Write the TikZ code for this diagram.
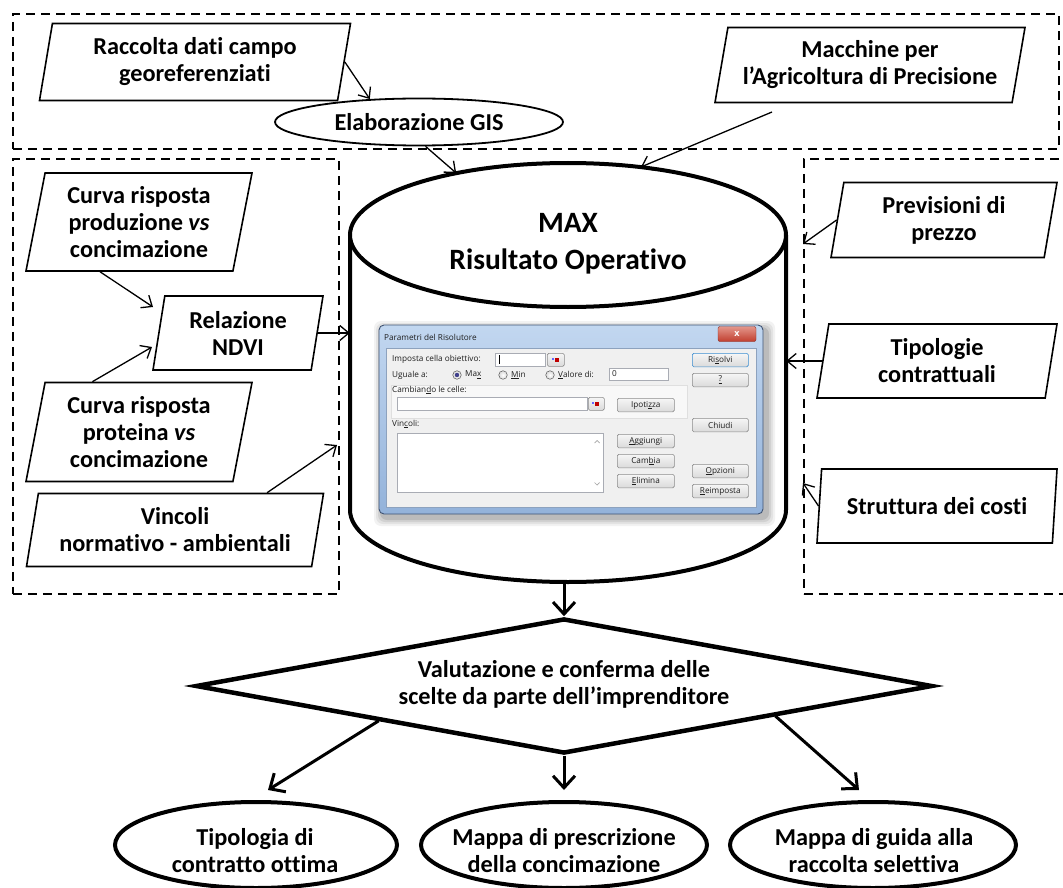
\documentclass[tikz,border=0pt]{standalone}
\usepackage{fontspec}
\setmainfont{Carlito}[Ligatures=NoCommon]
\newfontfamily\dlgfont{Open Sans}
\usetikzlibrary{shapes.geometric,arrows.meta,calc}

\definecolor{frameTop}{HTML}{C2D7F0}
\definecolor{frameBot}{HTML}{93B2DA}
\definecolor{frameEdge}{HTML}{3F5373}
\definecolor{clientBg}{HTML}{F0F0F0}
\definecolor{clientEdge}{HTML}{8DA2BE}
\definecolor{btnTop}{HTML}{F6F6F6}
\definecolor{btnBot}{HTML}{DADADA}
\definecolor{btnEdge}{HTML}{8C8C8C}
\definecolor{defEdge}{HTML}{3D8ED0}
\definecolor{fieldEdge}{HTML}{A9ACB4}
\definecolor{closeTop}{HTML}{E3968A}
\definecolor{closeBot}{HTML}{C13E2F}
\definecolor{dlgText}{HTML}{1E1E1E}

\begin{document}
\begin{tikzpicture}[x=1pt,y=-1pt,
  lbl/.style={font=\fontsize{24.3}{27}\selectfont\bfseries, align=center, inner sep=0pt},
  para/.style={trapezium, trapezium left angle=75, trapezium right angle=105,
               trapezium stretches body, draw, line width=1.6pt, fill=white, lbl},
  grp/.style={draw, line width=1.8pt, dash pattern=on 9pt off 6pt, inner sep=0pt, anchor=north west},
  inarr/.style={line width=1.3pt, -{Straight Barb[length=9pt,width=15pt,line width=1.3pt]}},
  outarr/.style={line width=3pt, -{Straight Barb[length=12pt,width=22pt,line width=3pt]}},
  dtxt/.style={font=\dlgfont\fontsize{8.2}{9}\selectfont, text=dlgText, inner sep=0pt, anchor=west},
  btn/.style={draw=btnEdge, top color=btnTop, bottom color=btnBot, rounded corners=1.5pt,
              line width=0.6pt, minimum width=57pt, minimum height=13.5pt, inner sep=0pt,
              font=\dlgfont\fontsize{8.2}{9}\selectfont, text=dlgText},
  fld/.style={draw=fieldEdge, fill=white, line width=0.6pt, inner sep=0pt, anchor=north west},
  radio/.style={circle, draw=gray!70!black, line width=0.5pt, inner color=white,
                outer color=gray!30, minimum size=8.5pt, inner sep=0pt},
]
\useasboundingbox (0,0) rectangle (1063,888);

% dashed groups
\node[grp, minimum width=1046pt, minimum height=135pt] (gTop) at (12,13) {};
\node[grp, minimum width=326pt, minimum height=435pt] (gLeft) at (12,158) {};
\node[grp, minimum width=270pt, minimum height=435pt] (gRight) at (803,158) {};

% top row
\node[para, minimum width=311pt, minimum height=77pt] (rac) at (195,62) {Raccolta dati campo\\georeferenziati};
\node[ellipse, draw, line width=1.8pt, fill=white, minimum width=288pt, minimum height=47pt,
      inner sep=0pt, lbl] (gis) at (419,122) {Elaborazione GIS};
\node[para, minimum width=310pt, minimum height=75pt] (mac) at (870,65) {Macchine per\\l’Agricoltura di Precisione};

% cylinder
\path[draw, line width=4pt, fill=white] (350,235) -- (350,510)
  arc[start angle=180, end angle=360, x radius=218pt, y radius=72pt] -- (786,235);
\draw[line width=4pt, fill=white] (568,235) ellipse [x radius=218pt, y radius=72pt];
\node[ellipse, minimum width=436pt, minimum height=144pt, inner sep=0pt] (cyltop) at (568,235) {};
\node[minimum width=436pt, minimum height=419pt, inner sep=0pt] (cyl) at (568,372.5) {};
\node[font=\fontsize{29.5}{37}\selectfont\bfseries, align=center, inner sep=0pt] (cyltxt) at (568,244) {MAX\\Risultato Operativo};

% solver dialog: shadow, frame, client area
\foreach \d/\op in {8/0.05,6/0.06,4/0.08,2/0.10}
  \fill[black, opacity=\op, rounded corners=7pt] (382-\d, 329-\d) rectangle (767+\d, 518+\d);
\shade[rounded corners=5pt, top color=frameTop, bottom color=frameBot] (379,325) rectangle (763,514);
\draw[rounded corners=5pt, draw=frameEdge, line width=0.9pt] (379,325) rectangle (763,514);
\draw[fill=clientBg, draw=clientEdge, line width=0.6pt] (386,348) rectangle (756,507);
\node[dtxt] (dTitle) at (384,337) {Parametri del Risolutore};
\node[draw=closeBot!70!black, top color=closeTop, bottom color=closeBot, rounded corners=2pt,
      minimum width=38pt, minimum height=15pt, inner sep=0pt, text=white,
      font=\dlgfont\bfseries\fontsize{9}{9}\selectfont] (dClose) at (737,334) {x};

% panel around the variable cells
\draw[draw=gray!25, fill=white!55!clientBg] (391,385) rectangle (687,418);

% objective row
\node[dtxt] (tImp) at (392,359) {Imposta cella obiettivo:};
\node[fld, minimum width=50pt, minimum height=13pt] (fObj) at (495,353) {};
\draw[line width=0.6pt] ($(fObj.west)+(4,-4.5)$) -- ($(fObj.west)+(4,4.5)$);
\node[btn, minimum width=17pt, minimum height=13pt, anchor=north west] (rObj) at (547,353) {};
\fill[red!75!black] ($(rObj.center)+(-1,-2)$) rectangle ($(rObj.center)+(3,2)$);
\fill[blue!60] ($(rObj.center)+(-4,-2)$) rectangle ($(rObj.center)+(-2,0)$);

% target row
\node[dtxt] (tUg) at (392,375) {Uguale a:};
\node[radio] (rMax) at (457,375) {};
\fill[blue!40!black!75] (rMax.center) circle[radius=2.2pt];
\node[dtxt] (tMax) at (465,375) {Ma\underline{x}};
\node[radio] (rMin) at (503,375) {};
\node[dtxt] (tMin) at (511,375) {\underline{M}in};
\node[radio] (rVal) at (550,375) {};
\node[dtxt] (tVal) at (558,375) {\underline{V}alore di:};
\node[fld, minimum width=59pt, minimum height=12pt] (fVal) at (609,368) {};
\node[dtxt] (tZero) at (612,374) {0};

% variable cells
\node[dtxt] (tCamb) at (392,390) {Cambian\underline{d}o le celle:};
\node[fld, minimum width=190pt, minimum height=13pt] (fCel) at (397,397) {};
\node[btn, minimum width=16pt, minimum height=13pt, anchor=north west] (rCel) at (588,397) {};
\fill[red!75!black] ($(rCel.center)+(-1,-2)$) rectangle ($(rCel.center)+(3,2)$);
\fill[blue!60] ($(rCel.center)+(-4,-2)$) rectangle ($(rCel.center)+(-2,0)$);
\node[btn, anchor=north west] (bIpo) at (617,398) {Ipoti\underline{z}za};

% constraints
\node[dtxt] (tVinc) at (392,424) {Vin\underline{c}oli:};
\node[fld, minimum width=206pt, minimum height=59pt] (fList) at (397,433) {};
\draw[gray!70, line width=0.7pt] ($(fList.north east)+(-9,10)$) -- ++(2.5,-2.5) -- ++(2.5,2.5);
\draw[gray!70, line width=0.7pt] ($(fList.south east)+(-9,-10)$) -- ++(2.5,2.5) -- ++(2.5,-2.5);
\node[btn, anchor=north west] (bAgg) at (617,434) {\underline{A}ggiungi};
\node[btn, anchor=north west] (bCam) at (617,454) {Cam\underline{b}ia};
\node[btn, anchor=north west] (bEli) at (617,474) {\underline{E}limina};

% right button column
\node[btn, anchor=north west, minimum width=56pt, draw=defEdge] (bRis) at (692,353) {Ri\underline{s}olvi};
\node[btn, anchor=north west, minimum width=56pt] (bHelp) at (692,373) {\underline{?}};
\node[btn, anchor=north west, minimum width=56pt] (bChi) at (692,418) {Chiudi};
\node[btn, anchor=north west, minimum width=56pt] (bOpz) at (692,464) {\underline{O}pzioni};
\node[btn, anchor=north west, minimum width=56pt] (bRei) at (692,484) {\underline{R}eimposta};

% left inputs
\node[para, minimum width=226pt, minimum height=98pt] (c1) at (139,222) {Curva risposta\\produzione \textit{vs}\\concimazione};
\node[para, minimum width=170pt, minimum height=74pt] (rel) at (238,333) {Relazione\\NDVI};
\node[para, minimum width=226pt, minimum height=99pt] (c2) at (139,432) {Curva risposta\\proteina \textit{vs}\\concimazione};
\node[para, minimum width=297pt, minimum height=73pt] (vin) at (175,530) {Vincoli\\normativo - ambientali};

% right inputs
\node[para, minimum width=226pt, minimum height=75pt] (pre) at (944,220) {Previsioni di\\prezzo};
\node[para, minimum width=240pt, minimum height=74pt] (tip) at (937,361) {Tipologie\\contrattuali};
\node[para, minimum width=240pt, minimum height=74pt] (str) at (937,506) {Struttura dei costi};

% decision and outputs
\node[diamond, draw, line width=4.5pt, fill=white, minimum width=737pt, minimum height=135pt, inner sep=0pt] (dia) at (564,686) {};
\node[lbl] (diat) at (564,684) {Valutazione e conferma delle\\scelte da parte dell’imprenditore};
\node[ellipse, draw, line width=4pt, minimum width=282pt, minimum height=86pt, inner sep=0pt] (out1) at (256,845) {};
\node[lbl] (out1t) at (255,851) {Tipologia di\\contratto ottima};
\node[ellipse, draw, line width=4pt, minimum width=286pt, minimum height=86pt, inner sep=0pt] (out2) at (564,845) {};
\node[lbl] (out2t) at (564,851) {Mappa di prescrizione\\della concimazione};
\node[ellipse, draw, line width=4pt, minimum width=286pt, minimum height=86pt, inner sep=0pt] (out3) at (873,845) {};
\node[lbl] (out3t) at (874,851) {Mappa di guida alla\\raccolta selettiva};

% free ends of connectors
\coordinate (macS) at (772,112);
\coordinate (relA) at (153,307);
\coordinate (relB) at (152,347);
\coordinate (vinE) at (337,445);
\coordinate (preE) at (803,244);
\coordinate (strE) at (803,483);
\coordinate (o1tip) at (268,790);
\coordinate (o2tip) at (564,790);
\coordinate (o3tip) at (859,790);

% input connectors
\draw[inarr] (rac.right side) -- (gis.155);
\draw[inarr] (gis.-75) -- (cyltop.151);
\draw[inarr] (macS) -- (cyltop.43);
\draw[inarr] ($(c1.bottom left corner)!0.36!(c1.bottom right corner)$) -- (relA);
\draw[inarr] ($(c2.top left corner)!0.23!(c2.top right corner)$) -- (relB);
\draw[inarr] (rel.right side) -- (rel.right side -| cyl.west);
\draw[inarr] ($(vin.top left corner)!0.8!(vin.top right corner)$) -- (vinE);
\draw[inarr] (pre.left side) -- (preE);
\draw[inarr] (tip.left side) -- (tip.left side -| cyl.east);
\draw[inarr] (str.left side) -- (strE);

% output connectors
\draw[outarr] (dia.north |- cyl.south) -- (dia.north);
\draw[outarr] (dia.south west) -- (o1tip);
\draw[outarr] (dia.south) -- (o2tip);
\draw[outarr] ($(dia.south)!0.57!(dia.east)$) -- (o3tip);
\end{tikzpicture}
\end{document}
